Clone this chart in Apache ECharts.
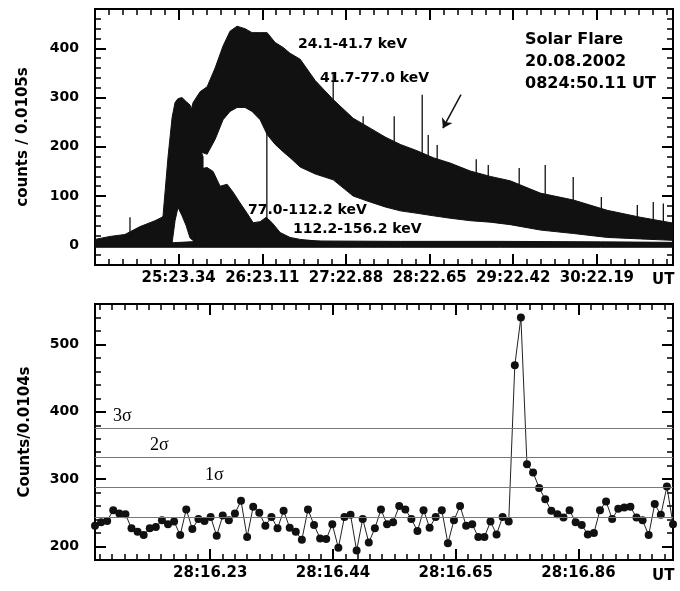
<!DOCTYPE html>
<html>
<head>
<meta charset="utf-8">
<script src="https://cdn.jsdelivr.net/npm/echarts@6/dist/echarts.min.js"></script>
<style>
  html, body { margin: 0; padding: 0; background: #fff; }
  #chart { width: 680px; height: 591px; }
</style>
</head>
<body>
<div id="chart"></div>
<script>
// ---------- top panel: x = seconds after 08:24:23.57, y = counts / 0.0105 s ----------
const topTickStep = 59.77;
const topTickLabels = ['25:23.34', '26:23.11', '27:22.88', '28:22.65', '29:22.42', '30:22.19'];
const topYLabels = ['0', '100', '200', '300', '400'];

// envelopes (low / high) of each energy channel
const band1Name = '24.1-41.7 keV';
const band1Time = [0, 10.7, 21.4, 32.2, 42.9, 50.0, 57.2, 64.3, 70.1, 75.1, 80.1, 85.8, 91.5, 96.5, 101.5,
  107.2, 112.2, 118.0, 123.0, 128.7, 134.4, 139.4, 146.6, 157.3, 170.2, 184.5, 196.6, 207.3, 218.1, 230.2,
  241.7, 253.8, 268.1, 282.4, 296.7, 318.2, 341.8, 366.1, 389.7, 413.2];
const band1High = [12, 18, 22, 38, 50, 60, 110, 230, 290, 312, 322, 360, 405, 435, 445,
  440, 432, 432, 432, 412, 402, 390, 378, 335, 296, 258, 238, 220, 205, 192,
  178, 167, 151, 140, 131, 106, 92, 71, 57, 45];
const band1Low = [0, 0, 0, 0, 0, 5, 90, 150, 185, 190, 185, 215, 255, 272, 280,
  280, 272, 255, 225, 205, 190, 178, 159, 145, 133, 100, 88, 78, 70, 65,
  60, 55, 50, 47, 42, 31, 24, 16, 13, 10];

const band2Name = '41.7-77.0 keV';
const band2Time = [45.0, 48.6, 52.2, 55.1, 57.2, 59.3, 62.2, 65.1, 67.9, 70.8, 73.6, 77.2];
const band2High = [20, 60, 180, 260, 290, 298, 300, 292, 285, 250, 210, 180];
const band2Low = [0, 0, 0, 5, 50, 77, 60, 40, 15, 8, 8, 8];

const band3Name = '77.0-112.2 keV';
const band3Time = [70.8, 75.1, 80.1, 84.4, 89.4, 94.4, 98.7, 103.7, 108.7, 113.0, 118.0, 122.3, 126.5, 132.3, 139.4, 146.6, 160.9];
const band3High = [150, 155, 158, 150, 120, 124, 108, 86, 65, 46, 48, 57, 46, 26, 16, 12, 8];
const band3Low = [0, 0, 0, 0, 0, 0, 0, 0, 0, 0, 0, 0, 0, 0, 0, 0, 0];

const band4Name = '112.2-156.2 keV';
const band4Time = [0, 53.6, 75.1, 110.8, 146.6, 218.1, 289.6, 361.1, 413.2];
const band4High = [5, 5, 8, 8, 9, 8, 8, 7, 6];
const band4Low = [-4, -4, -4, -4, -4, -4, -4, -4, -4];

// single-bin spikes sticking out of the envelopes
const spikeTime = [25.0, 122.8, 170.2, 191.6, 213.8, 233.8, 238.1, 244.5, 272.4, 281.0, 303.1, 321.7, 341.7, 361.8, 387.5, 398.9, 406.1];
const spikeBase = [15, 0, 290, 245, 205, 185, 180, 172, 146, 138, 124, 104, 90, 74, 58, 50, 48];
const spikeTop = [57, 272, 351, 262, 262, 306, 224, 204, 175, 163, 157, 163, 139, 98, 82, 88, 85];

// ---------- bottom panel: x = seconds after 08:28:16.02, y = counts / 0.0104 s ----------
const botTickStep = 0.21;
const botTickLabels = ['28:16.23', '28:16.44', '28:16.65', '28:16.86'];
const botYLabels = ['200', '300', '400', '500'];
const binCounts = [
  231, 236, 238, 254, 249, 248, 227, 222, 217, 227, 229, 239, 233, 237, 217, 255, 226, 241, 238, 244, 216, 246, 239, 249, 268,
  214, 259, 250, 231, 244, 227, 253, 228, 222, 210, 255, 232, 212, 211, 233, 198, 244, 247, 194, 241, 206, 227, 255, 233,
  236, 260, 255, 241, 223, 254, 228, 244, 254, 205, 239, 260, 231, 233, 214, 214, 237, 218, 244, 237, 469, 540, 322,
  310, 287, 270, 253, 248, 243, 254, 236, 232, 218, 220, 254, 267, 241, 256, 258, 259, 243, 239, 217, 263, 247, 289, 233
];
const sigmaLevels = [244, 288, 332, 376];
const sigmaLabels = ['', '1σ', '2σ', '3σ'];
const sigmaLabelShift = [0, 110, 55, 18];

const chart = echarts.init(document.getElementById('chart'));

const boldFont = { color: '#000', fontFamily: 'DejaVu Sans', fontWeight: 'bold' };

function tickAxis(dim, grid, pos, min, max, step, minorSplit, labels, shown, extra) {
  const ax = {
    type: 'value', gridIndex: grid, position: pos, min: min, max: max,
    minInterval: step, maxInterval: step,
    axisLine: { show: false, onZero: false },
    splitLine: { show: false },
    axisTick: { inside: true, length: 11, lineStyle: { color: '#000', width: 2 } },
    minorTick: { show: true, splitNumber: minorSplit, length: 6, lineStyle: { color: '#000', width: 1.5 } },
    axisLabel: Object.assign({
      show: shown,
      formatter: function (v) {
        const k = Math.round(v / step);
        if (Math.abs(v - k * step) > step * 1e-3) return '';
        if (dim === 'x') return (k >= 1 && k <= labels.length) ? labels[k - 1] : '';
        const s = String(Math.round(v));
        return labels.indexOf(s) >= 0 ? s : '';
      }
    }, boldFont, dim === 'x' ? { fontSize: 15, margin: 6 } : { fontSize: 14, margin: 16 })
  };
  return Object.assign(ax, extra || {});
}

// one filled polygon per channel: high edge left->right, low edge back
function band(name, time, low, high) {
  return {
    type: 'custom', name: name, xAxisIndex: 0, yAxisIndex: 0, silent: true, clip: true,
    encode: { x: 0, y: [1, 2] },
    data: time.map((t, i) => [t, low[i], high[i]]),
    renderItem: function (params, api) {
      if (params.dataIndex !== 0) return null;
      const pts = [];
      for (let i = 0; i < time.length; i++) pts.push(api.coord([time[i], high[i]]));
      for (let i = time.length - 1; i >= 0; i--) pts.push(api.coord([time[i], low[i]]));
      return { type: 'polygon', shape: { points: pts },
        style: { fill: '#111', stroke: '#111', lineWidth: 1 } };
    }
  };
}

const yName = Object.assign({ fontSize: 15 }, boldFont);

const option = {
  animation: false,
  backgroundColor: '#fff',
  grid: [
    { left: 95, top: 9, width: 578, height: 256, show: true, borderColor: '#000', borderWidth: 2 },
    { left: 95, top: 304, width: 578, height: 256, show: true, borderColor: '#000', borderWidth: 2 }
  ],
  xAxis: [
    tickAxis('x', 0, 'bottom', 0, 413, topTickStep, 6, topTickLabels, true),
    tickAxis('x', 0, 'top', 0, 413, topTickStep, 6, topTickLabels, false),
    tickAxis('x', 1, 'bottom', 0.0128, 1.0018, botTickStep, 10, botTickLabels, true),
    tickAxis('x', 1, 'top', 0.0128, 1.0018, botTickStep, 10, botTickLabels, false),
    { type: 'category', gridIndex: 1, position: 'bottom', show: false, boundaryGap: false,
      axisLine: { onZero: false } }
  ],
  yAxis: [
    tickAxis('y', 0, 'left', -40, 480, 100, 5, topYLabels, true,
      { name: 'counts / 0.0105s', nameLocation: 'middle', nameGap: 64, nameTextStyle: yName }),
    tickAxis('y', 0, 'right', -40, 480, 100, 5, topYLabels, false),
    tickAxis('y', 1, 'left', 180, 560, 100, 5, botYLabels, true,
      { name: 'Counts/0.0104s', nameLocation: 'middle', nameGap: 62, nameTextStyle: yName }),
    tickAxis('y', 1, 'right', 180, 560, 100, 5, botYLabels, false)
  ],
  series: [
    band(band4Name, band4Time, band4Low, band4High),
    band(band1Name, band1Time, band1Low, band1High),
    band(band2Name, band2Time, band2Low, band2High),
    band(band3Name, band3Time, band3Low, band3High),
    {
      type: 'custom', name: 'spikes', xAxisIndex: 0, yAxisIndex: 0, silent: true,
      encode: { x: 0, y: [1, 2] },
      data: spikeTime.map((t, i) => [t, spikeBase[i], spikeTop[i]]),
      renderItem: function (params, api) {
        const p0 = api.coord([api.value(0), api.value(1)]);
        const p1 = api.coord([api.value(0), api.value(2)]);
        return { type: 'line', shape: { x1: p0[0], y1: p0[1], x2: p1[0], y2: p1[1] },
          style: { stroke: '#111', lineWidth: 1.3 } };
      }
    },
    {
      // pointer arrow in the decay phase
      type: 'line', name: 'arrow', xAxisIndex: 0, yAxisIndex: 0, silent: true,
      data: [],
      markLine: {
        silent: true, symbol: ['none', 'arrow'], symbolSize: 9,
        lineStyle: { color: '#111', width: 1.5, type: 'solid' },
        label: { show: false },
        data: [[{ coord: [261.5, 306] }, { coord: [248.6, 238] }]]
      }
    },
    {
      type: 'line', name: 'counts', xAxisIndex: 4, yAxisIndex: 2,
      data: binCounts,
      symbol: 'circle', symbolSize: 8, showAllSymbol: true,
      itemStyle: { color: '#111' },
      lineStyle: { color: '#222', width: 1 },
      silent: true,
      markLine: {
        silent: true, symbol: 'none',
        lineStyle: { color: '#777', width: 1, type: 'solid' },
        data: sigmaLevels.map((v, i) => ({
          yAxis: v,
          label: {
            show: sigmaLabels[i] !== '', formatter: sigmaLabels[i], position: 'insideStartTop',
            distance: [sigmaLabelShift[i], 3],
            color: '#000', fontFamily: 'Liberation Serif', fontSize: 18
          }
        }))
      }
    }
  ],
  graphic: [
    { type: 'text', x: 298, y: 44, style: { text: band1Name, font: 'bold 14px "DejaVu Sans"', fill: '#000', verticalAlign: 'middle' } },
    { type: 'text', x: 320, y: 78, style: { text: band2Name, font: 'bold 14px "DejaVu Sans"', fill: '#000', verticalAlign: 'middle' } },
    { type: 'text', x: 248, y: 210, style: { text: band3Name, font: 'bold 14px "DejaVu Sans"', fill: '#000', verticalAlign: 'middle' } },
    { type: 'text', x: 293, y: 229, style: { text: band4Name, font: 'bold 14px "DejaVu Sans"', fill: '#000', verticalAlign: 'middle' } },
    { type: 'text', x: 525, y: 40, style: { text: 'Solar Flare', font: 'bold 16px "DejaVu Sans"', fill: '#000', verticalAlign: 'middle' } },
    { type: 'text', x: 525, y: 62, style: { text: '20.08.2002', font: 'bold 16px "DejaVu Sans"', fill: '#000', verticalAlign: 'middle' } },
    { type: 'text', x: 525, y: 84, style: { text: '0824:50.11 UT', font: 'bold 16px "DejaVu Sans"', fill: '#000', verticalAlign: 'middle' } },
    { type: 'text', x: 652, y: 280, style: { text: 'UT', font: 'bold 15px "DejaVu Sans"', fill: '#000', verticalAlign: 'middle' } },
    { type: 'text', x: 652, y: 576, style: { text: 'UT', font: 'bold 15px "DejaVu Sans"', fill: '#000', verticalAlign: 'middle' } }
  ]
};

chart.setOption(option);
</script>
</body>
</html>
